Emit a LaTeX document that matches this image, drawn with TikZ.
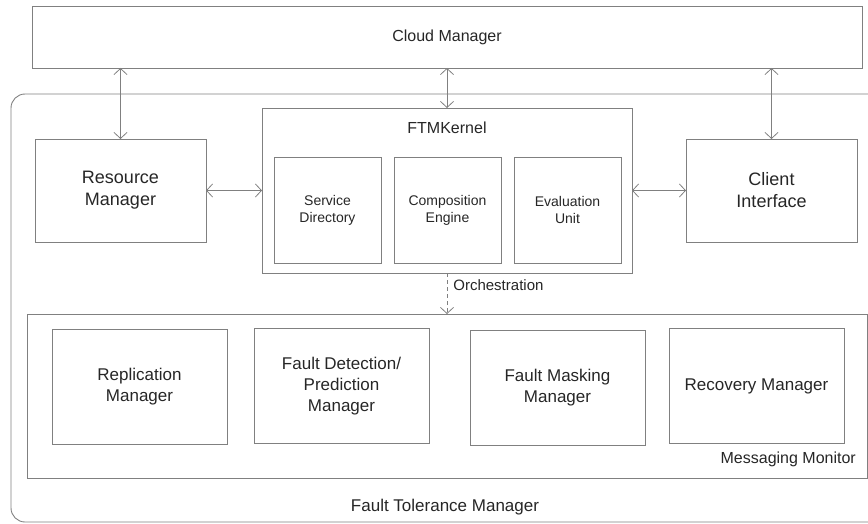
\documentclass[tikz,border=0pt]{standalone}
\usepackage{fontspec}
\setmainfont{Liberation Sans}
\usetikzlibrary{arrows.meta}

\definecolor{linegray}{HTML}{808080}
\definecolor{textgray}{HTML}{262626}

\begin{document}
\begin{tikzpicture}[
    x = 1pt, y = -1pt,
    box/.style = {
        draw       = linegray,
        line width = 0.9pt,
        inner sep  = 0pt,
        outer sep  = 0pt,
        align      = center,
        text       = textgray
    },
    sidebox/.style = {
        box,
        minimum width  = 171pt,
        minimum height = 103pt,
        font           = \fontsize{18}{22}\selectfont
    },
    unitbox/.style = {
        box,
        minimum width  = 107pt,
        minimum height = 106pt,
        font           = \fontsize{14}{17}\selectfont
    },
    mgrbox/.style = {
        box,
        minimum width  = 175pt,
        minimum height = 115pt,
        font           = \fontsize{17}{21}\selectfont
    },
    lab/.style = {
        inner sep = 0pt,
        text      = textgray
    },
    link/.style = {
        draw       = linegray,
        line width = 0.8pt,
        {Straight Barb[length=6pt, width=13pt]}-{Straight Barb[length=6pt, width=13pt]}
    },
    orch/.style = {
        draw         = linegray,
        line width   = 0.8pt,
        dash pattern = on 4pt off 3pt,
        -{Straight Barb[length=6pt, width=13pt]}
    }
]

\clip (0,0) rectangle (868,524);

% ================================================================
%  CAPA SUPERIOR + CONTENEDOR REDONDEADO
% ================================================================

\node[box, minimum width=830pt, minimum height=62pt,
      font=\fontsize{16}{19}\selectfont] (cm) at (447, 37) {Cloud Manager};

\draw[linegray, line width=0.9pt, rounded corners=14pt]
    (11, 94) rectangle (900, 522);
\node[lab, font=\fontsize{17}{20}\selectfont] (ftmgr) at (445, 507)
    {Fault Tolerance Manager};

% ================================================================
%  FILA CENTRAL: gestor de recursos, nucleo, interfaz cliente
% ================================================================

\node[sidebox] (rm) at (120.5, 190.5) {Resource\\Manager};
\node[sidebox] (ci) at (771.5, 190.5) {Client\\Interface};

\node[box, minimum width=370pt, minimum height=165pt] (ftm) at (447, 190.5) {};
\node[lab, font=\fontsize{16}{19}\selectfont] (ftmlab) at (447, 128) {FTMKernel};

\node[unitbox] (sd) at (327.5, 210) {Service\\Directory};
\node[unitbox] (ce) at (447.5, 210) {Composition\\Engine};
\node[unitbox] (eu) at (567.5, 210) {Evaluation\\Unit};

% ================================================================
%  FILA INFERIOR: monitor de mensajes con sus gestores
% ================================================================

\node[box, minimum width=840pt, minimum height=164pt] (mm) at (447, 396) {};
\node[lab, anchor=east, font=\fontsize{16}{19}\selectfont] (mmlab) at (856, 459)
    {Messaging Monitor};

\node[mgrbox] (rep) at (139.5, 386.5) {Replication\\Manager};
\node[mgrbox] (fdp) at (341.5, 386)   {Fault Detection/\\Prediction\\Manager};
\node[mgrbox] (fmm) at (557.5, 387.5) {Fault Masking\\Manager};
\node[mgrbox] (rcv) at (756.5, 386)   {Recovery Manager};

% ================================================================
%  CONEXIONES
% ================================================================

\draw[link] (rm.north |- cm.south)  -- (rm.north);
\draw[link] (ftm.north |- cm.south) -- (ftm.north);
\draw[link] (ci.north |- cm.south)  -- (ci.north);

\draw[link] (rm.east)  -- (ftm.west);
\draw[link] (ftm.east) -- (ci.west);

\draw[orch] (ftm.south) -- (mm.north)
    node[lab, pos=0.3, anchor=west, xshift=6pt,
         font=\fontsize{15}{18}\selectfont] (orchlab) {Orchestration};

\end{tikzpicture}
\end{document}
